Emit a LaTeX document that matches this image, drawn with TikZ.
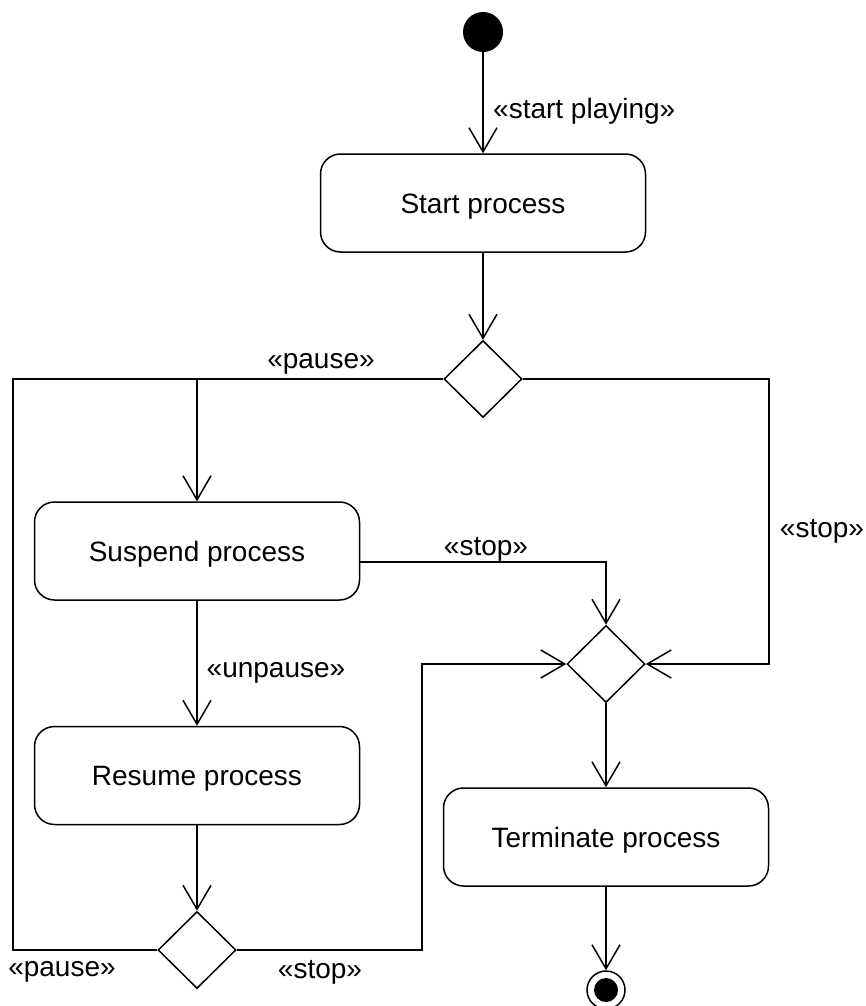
\documentclass[tikz,border=0pt]{standalone}
\usepackage{fontspec}
\setmainfont{Liberation Sans}
\usetikzlibrary{shapes.geometric,arrows.meta}
\begin{document}
\begin{tikzpicture}[x=1pt,y=-1pt,
  every node/.style={font=\fontsize{28}{34}\selectfont},
  action/.style={draw,line width=1.5pt,rounded corners=20pt,minimum width=325pt,minimum height=98pt,inner sep=0pt,text height=20pt,text depth=0pt},
  decision/.style={draw,line width=1.5pt,diamond,shape aspect=1,minimum width=78pt,minimum height=77pt,inner sep=0pt},
  flow/.style={line width=1.5pt},
  arr/.style={flow,-{Straight Barb[length=24pt,width=28pt,line width=1.5pt]}},
  lbl/.style={inner sep=0pt}]
\useasboundingbox (0,0) rectangle (866,1006);

% initial and final states
\node[circle,fill=black,minimum size=40pt,inner sep=0pt] (start) at (483,32) {};
\node[circle,draw,line width=1.5pt,minimum size=38pt,inner sep=0pt] (end) at (606,990) {};
\fill (end.center) circle (12pt);

% actions
\node[action] (sp) at (483,203) {Start process};
\node[action] (sus) at (197,551) {Suspend process};
\node[action] (res) at (197,775.5) {Resume process};
\node[action] (term) at (606,837) {Terminate process};

% decisions
\node[decision] (d1) at (483,379) {};
\node[decision] (d2) at (606,664) {};
\node[decision] (d3) at (197,950) {};

% routing points
\coordinate (j1) at (197,379);
\coordinate (lx) at (13,379);
\coordinate (rx) at (769,664);
\coordinate (sx) at (422,664);

% flows
\draw[arr] (start) -- (sp);
\draw[arr] (sp) -- (d1);
\draw[flow] (d1.west) -- (j1);
\draw[arr] (j1) -- (sus);
\draw[flow] (d3.west) -| (lx) -- (j1);
\draw[arr] (d1.east) -| (rx) -- (d2.east);
\draw[arr] ([yshift=-11pt]sus.east) -| (d2.north);
\draw[arr] (sus) -- (res);
\draw[arr] (res) -- (d3);
\draw[arr] (d3.east) -| (sx) -- (d2.west);
\draw[arr] (d2) -- (term);
\draw[arr] (term) -- (end);

% guards
\node[lbl,anchor=west] (lsp) at (493,111) {«start playing»};
\node[lbl] (lp1) at (321,364) {«pause»};
\node[lbl] (ls1) at (822,531) {«stop»};
\node[lbl] (ls2) at (486,549) {«stop»};
\node[lbl] (lun) at (276,673) {«unpause»};
\node[lbl] (lp2) at (62,972) {«pause»};
\node[lbl] (ls3) at (320,972) {«stop»};
\end{tikzpicture}
\end{document}
